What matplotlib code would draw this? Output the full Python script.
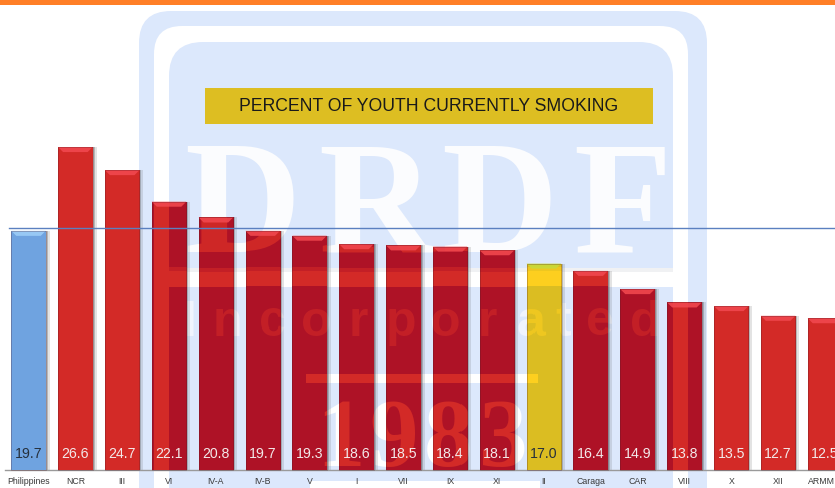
import matplotlib
matplotlib.use("Agg")
import matplotlib.pyplot as plt
import numpy as np
from matplotlib.patches import FancyBboxPatch, Rectangle, Polygon

plt.rcParams["font.family"] = ["Liberation Sans", "DejaVu Sans"]

# data
regions = ["Philippines", "NCR", "III", "VI", "IV-A", "IV-B", "V", "I", "VII", "IX", "XI", "II",
           "Caraga", "CAR", "VIII", "X", "XII", "ARMM"]
percent = [19.7, 26.6, 24.7, 22.1, 20.8, 19.7, 19.3, 18.6, 18.5, 18.4, 18.1, 17.0,
           16.4, 14.9, 13.8, 13.5, 12.7, 12.5]
national = 19.9
title = "PERCENT OF YOUTH CURRENTLY SMOKING"

W, H = 835, 488
PX_X = 46.85     # pixels per category
PX_Y = 12.14     # pixels per percent
X0, Y0 = 28.5, 470

BLUE_WM = "#DCE8FC"


def draw_watermark(a):
    # logo behind the chart, in pixel coordinates
    a.set_xlim(0, W)
    a.set_ylim(H, 0)
    a.axis("off")
    def round_box(x0, y0, x1, y1, color, r):
        a.add_patch(FancyBboxPatch((x0, y0), x1 - x0, y1 - y0, boxstyle=f"round,pad=0,rounding_size={r}",
                                   fc=color, ec="none"))
    round_box(139, 11, 707, 560, BLUE_WM, 32)
    round_box(154, 26, 688, 560, "white", 28)
    round_box(169, 42, 673, 560, BLUE_WM, 34)
    a.add_patch(Rectangle((154, 268), 534, 19, fc="white", ec="none"))
    a.add_patch(Rectangle((169, 268), 504, 4, fc="#F0F1F3", ec="none"))
    a.add_patch(Rectangle((306, 374), 231, 9, fc="white", ec="none"))
    a.add_patch(Rectangle((310, 481), 230, 10, fc="white", ec="none"))
    for ch, cx in zip("DRDF", [242, 376, 499, 622]):
        a.text(cx, 252, ch, fontsize=116, family="Liberation Serif", weight="bold", color="#FBFCFE",
               ha="center", va="baseline")
    for ch, cx in zip("Incorporated", [190, 227, 272, 316, 358, 401, 445, 487, 530, 563, 600, 645]):
        a.text(cx, 336, ch, fontsize=36, weight="bold", color="#F0F4FD", ha="center", va="baseline")
    for ch, cx in zip("1983", [340, 394, 448, 503]):
        a.text(cx, 466, ch, fontsize=70, family="Liberation Serif", weight="bold", color="white",
               ha="center", va="baseline")


# whiteness of the logo, used to tint the bars where they cross it
mask_fig = plt.figure(figsize=(W / 100, H / 100), dpi=100)
mask_ax = mask_fig.add_axes([0, 0, 1, 1])
draw_watermark(mask_ax)
mask_fig.canvas.draw()
rgba = np.asarray(mask_fig.canvas.buffer_rgba()).astype(float)
plt.close(mask_fig)
white = np.clip((rgba[:, :, 0] - 220) / 35, 0, 1)[:, :, None]

fig = plt.figure(figsize=(W / 100, H / 100), dpi=100, facecolor="white")
bg = fig.add_axes([0, 0, 1, 1], zorder=0)
draw_watermark(bg)
bg.add_patch(Rectangle((0, 0), W, 5, fc="#FF7F27", ec="none"))

ax = fig.add_axes([0, 0, 1, 1], zorder=1)
ax.patch.set_alpha(0)
xlim = (-X0 / PX_X, (W - X0) / PX_X)
ylim = ((Y0 - H) / PX_Y, Y0 / PX_Y)
for s in ax.spines.values():
    s.set_visible(False)
ax.set_xticks([])
ax.set_yticks([])

x = np.arange(len(regions))
bar_w = 34.5 / PX_X
colors = []
for r in regions:
    if r == "Philippines":
        colors.append(("#6FA3E0", "#6FA3E0", "#9CCDF7"))
    elif r == "II":
        colors.append(("#FDCF1F", "#DBBD22", "#C9D93A"))
    else:
        colors.append(("#D32A27", "#AE1226", "#F0474E"))

# soft shadow on the right side of each bar
ax.bar(x + 2 / PX_X, percent, bar_w, color="#444444", alpha=0.28, zorder=1)
ax.bar(x + 4 / PX_X, percent, bar_w, color="#555555", alpha=0.16, zorder=1)

bars = ax.bar(x, percent, bar_w, color=[c[0] for c in colors], zorder=2)
for b, c in zip(bars, colors):
    bright = np.array(matplotlib.colors.to_rgb(c[0]))
    dark = np.array(matplotlib.colors.to_rgb(c[1]))
    img = dark + (bright - dark) * white
    im = ax.imshow(img, extent=(xlim[0], xlim[1], ylim[0], ylim[1]), aspect="auto", origin="upper",
                   interpolation="nearest", zorder=2.5)
    im.set_clip_path(b)

# bevel on top of each bar
bev_h = 5 / PX_Y
bev_in = 5 / PX_X
for xi, v, c in zip(x, percent, colors):
    ax.add_patch(Polygon([(xi - bar_w / 2, v), (xi + bar_w / 2, v), (xi + bar_w / 2 - bev_in, v - bev_h),
                          (xi - bar_w / 2 + bev_in, v - bev_h)], fc=c[2], ec="none", alpha=0.9, zorder=3))
ax.bar(x, percent, bar_w, fc="none", ec=(0.3, 0.1, 0.15, 0.28), lw=0.7, zorder=3)

# baseline and national average line
ax.plot([5 / PX_X - X0 / PX_X, xlim[1]], [0, 0], color="#9A9A9A", lw=1, zorder=1.5)
ax.plot([9 / PX_X - X0 / PX_X, xlim[1]], [national, national], color="#5B80C0", lw=1, zorder=4)

ax.set_xlim(xlim)
ax.set_ylim(ylim)

for xi, v, r in zip(x, percent, regions):
    tc = "#26303C" if r in ("Philippines", "II") else "#F3E9EA"
    ax.text(xi, 16.5 / PX_Y, f"{v:.1f}", ha="center", va="center", fontsize=10.2, color=tc, zorder=5)
    ax.text(xi + (0 if r != "ARMM" else -3 / PX_X), -12 / PX_Y, r, ha="center", va="center", fontsize=6.3,
            color="#3A3A3A", zorder=5)

# title box
bg.add_patch(Rectangle((205, 88), 448, 36, fc="#DDBE22", ec="none"))
bg.text(429, 106.5, title, ha="center", va="center", fontsize=12.7, color="#1A1A1A")

fig.savefig("out.png", dpi=100)
